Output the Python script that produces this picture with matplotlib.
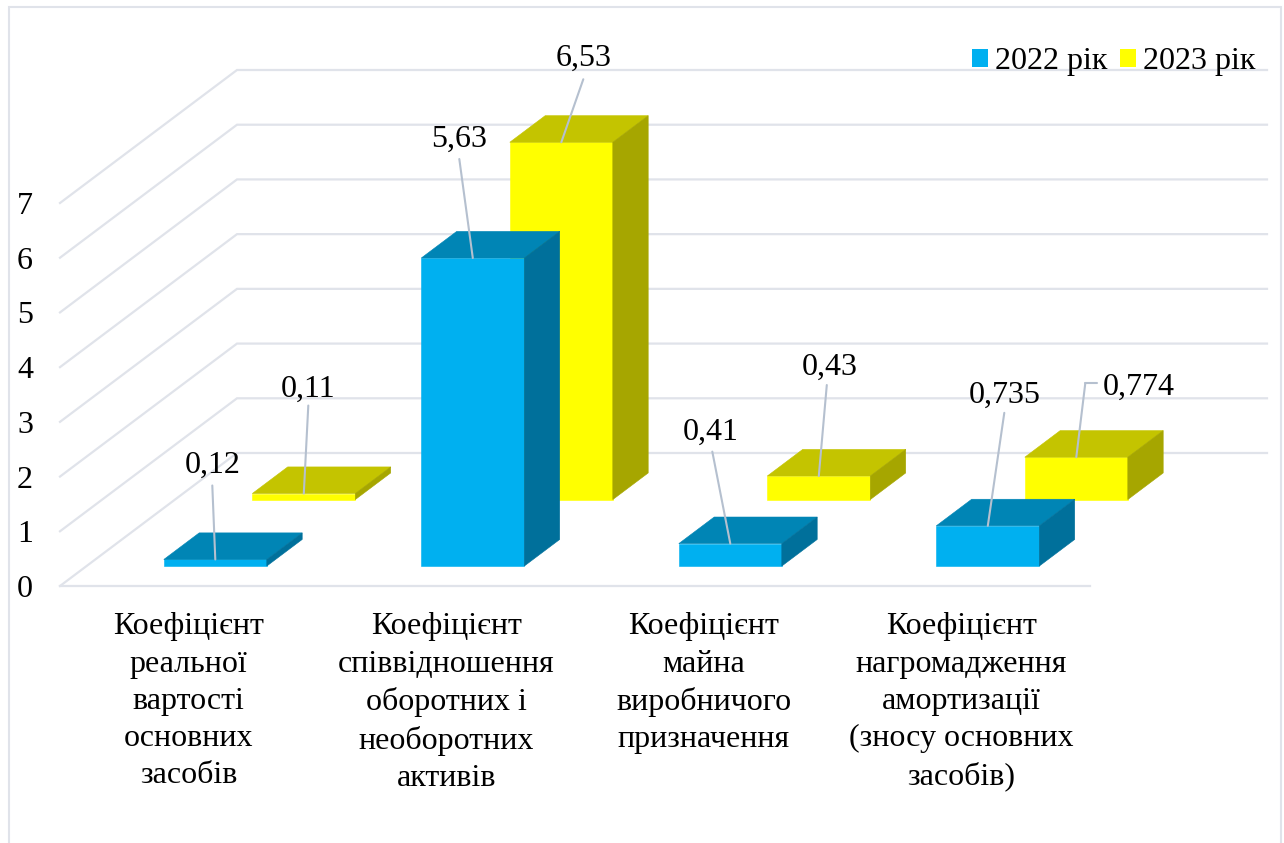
import matplotlib
matplotlib.use('Agg')
import matplotlib.pyplot as plt
from matplotlib.patches import Patch, Polygon, Rectangle

plt.rcParams['font.family'] = ['Liberation Serif', 'DejaVu Serif']

categories = [
    'Коефіцієнт\nреальної\nвартості\nосновних\nзасобів',
    'Коефіцієнт\nспіввідношення\nоборотних і\nнеоборотних\nактивів',
    'Коефіцієнт\nмайна\nвиробничого\nпризначення',
    'Коефіцієнт\nнагромадження\nамортизації\n(зносу основних\nзасобів)',
]
values_2022 = [0.12, 5.63, 0.41, 0.735]
values_2023 = [0.11, 6.53, 0.43, 0.774]
y_ticks = [0, 1, 2, 3, 4, 5, 6, 7]

# kleuren: voorkant, bovenkant, zijkant
BLUE = ('#00B0F0', '#0085B5', '#00709B')
YELLOW = ('#FFFF00', '#C4C400', '#A6A600')
GRID = '#E0E3EA'
LEADER = '#B5C0CF'
FS = 23

# schuine projectie van de diepte-as, in data-eenheden
DEPTH_X = 177 / 257.5
DEPTH_Y = 133 / (383 / 7)
BAR_START = 0.3
BAR_WIDTH = 0.4
BAR_DEPTH = 0.2

# offsets in pixels vanaf het midden van de bovenrand van de balk
label_off_2022 = [(-3, 94.5), (-14, 118.5), (-20, 111.5), (16.5, 130.5)]
leader_off_2022 = [(-3, 74), (-13.5, 99), (-18, 92), (16.5, 113)]
label_off_2023 = [(4.5, 104.5), (22, 83.5), (11, 108.5), (62, 69.5)]
leader_off_2023 = [(4.5, 88), (22, 63), (8, 91), (9, 74)]


def project(x, y, d):
    return x + d * DEPTH_X, y + d * DEPTH_Y


def draw_bar(ax, i, value, row, colors, z):
    x0 = i + BAR_START
    x1 = x0 + BAR_WIDTH
    d0 = row
    d1 = row + BAR_DEPTH
    front = [project(x0, 0, d0), project(x1, 0, d0), project(x1, value, d0), project(x0, value, d0)]
    top = [project(x0, value, d0), project(x1, value, d0), project(x1, value, d1), project(x0, value, d1)]
    side = [project(x1, 0, d0), project(x1, 0, d1), project(x1, value, d1), project(x1, value, d0)]
    for pts, c in zip((front, top, side), colors):
        ax.add_patch(Polygon(pts, closed=True, facecolor=c, edgecolor=c, linewidth=0.4, zorder=z, clip_on=False))
    return project(i + 0.5, value, d0)


def draw_label(ax, anchor, value, label_off, leader_off):
    ax.annotate('', xy=anchor, xytext=leader_off, textcoords='offset pixels', annotation_clip=False,
                arrowprops=dict(arrowstyle='-', color=LEADER, lw=1.5, shrinkA=0, shrinkB=0), zorder=10)
    ax.annotate(str(value).replace('.', ','), xy=anchor, xytext=label_off, textcoords='offset pixels',
                annotation_clip=False, ha='center', va='center', fontsize=FS, color='black', zorder=11)


fig = plt.figure(figsize=(12.84, 8.43), dpi=100)
fig.patch.set_facecolor('white')
frame = Rectangle((9 / 1284, -0.01), 1272 / 1284, 1.01 - 7 / 843, transform=fig.transFigure,
                  facecolor='none', edgecolor=GRID, linewidth=1.5)
fig.add_artist(frame)

ax = fig.add_axes([60 / 1284, (843 - 586) / 843, 1030 / 1284, 383 / 843])
ax.set_xlim(0, 4)
ax.set_ylim(0, 7)
ax.patch.set_alpha(0)
for s in ax.spines.values():
    s.set_visible(False)

# achterwand en linker zijwand
for level in y_ticks:
    bx, by = project(0, level, 1)
    ex, ey = project(4, level, 1)
    ax.plot([0, bx, ex], [level, by, ey], color=GRID, lw=1.6, zorder=1, clip_on=False, solid_joinstyle='miter')
ax.plot([0, 4], [0, 0], color=GRID, lw=1.6, zorder=1, clip_on=False)

ax.set_yticks(y_ticks)
ax.set_xticks([i + 0.5 for i in range(len(categories))])
ax.set_xticklabels(categories, fontsize=FS, linespacing=1.37)
ax.tick_params(axis='y', length=0, pad=19.4, labelsize=FS)
ax.tick_params(axis='x', length=0, pad=19)

# achterste rij eerst, anders klopt de overlap niet
for i, v in enumerate(values_2023):
    anchor = draw_bar(ax, i, v, 0.65, YELLOW, 3 + i * 0.1)
    draw_label(ax, anchor, v, label_off_2023[i], leader_off_2023[i])
for i, v in enumerate(values_2022):
    anchor = draw_bar(ax, i, v, 0.15, BLUE, 5 + i * 0.1)
    draw_label(ax, anchor, v, label_off_2022[i], leader_off_2022[i])

# knik in de lijn van het laatste label
ax.annotate('', xy=(1085 / 1284, 1 - 383 / 843), xycoords='figure fraction',
            xytext=(1097 / 1284, 1 - 383 / 843), textcoords='figure fraction', annotation_clip=False,
            arrowprops=dict(arrowstyle='-', color=LEADER, lw=1.5, shrinkA=0, shrinkB=0), zorder=10)

handles = [Patch(facecolor=BLUE[0], label='2022 рік'), Patch(facecolor=YELLOW[0], label='2023 рік')]
ax.legend(handles=handles, ncol=2, loc='upper left', bbox_to_anchor=(972 / 1284, 1 - 47 / 843),
          bbox_transform=fig.transFigure, frameon=False, fontsize=FS, borderpad=0, borderaxespad=0,
          handlelength=0.5, handleheight=0.5, handletextpad=0.22, columnspacing=0.4)

fig.savefig('out.png', dpi=100)
plt.close(fig)
